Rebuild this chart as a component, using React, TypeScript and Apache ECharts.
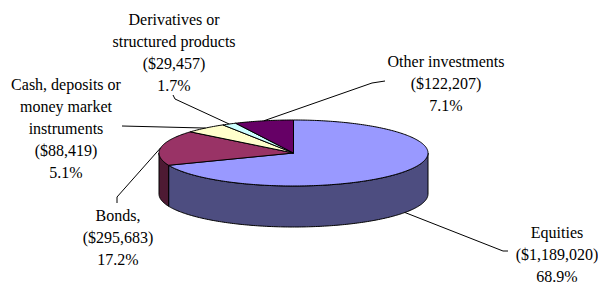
import React, { useEffect, useRef } from "react";
import * as echarts from "echarts";

const categories = [
  "Equities",
  "Bonds,",
  "Cash, deposits or\nmoney market\ninstruments",
  "Derivatives or\nstructured products",
  "Other investments",
];
const values = [1189020, 295683, 88419, 29457, 122207];
const percents = [68.9, 17.2, 5.1, 1.7, 7.1];

const topColors = ["#9999FF", "#993366", "#FFFFCC", "#CCFFFF", "#660066"];
const sideColors = ["#4D4D80", "#4D1A33", "#80806A", "#6A8080", "#330033"];

// label placement (centre of text block) and leader-line elbow points (label side first)
const labelLayout = [
  { x: 557, y: 254, elbow: [[508, 251], [503, 251]] },
  { x: 118, y: 237, elbow: [[117, 203], [117, 197]] },
  { x: 66, y: 128, elbow: [[122, 126]] },
  { x: 174, y: 52, elbow: [[173, 95], [175, 99]] },
  { x: 446, y: 83, elbow: [[385, 81], [372, 83]] },
];

const PIE = { cx: 293.5, cy: 153, rx: 134.5, ry: 33, depth: 41 };
const FAMILY = "Liberation Serif";

function pt(t: number, dy = 0): number[] {
  return [PIE.cx + PIE.rx * Math.cos(t), PIE.cy + PIE.ry * Math.sin(t) + dy];
}

function arc(s: number, e: number, dy = 0): number[][] {
  const pts: number[][] = [];
  const n = Math.max(2, Math.ceil(((e - s) * 180) / Math.PI));
  for (let k = 0; k <= n; k++) pts.push(pt(s + ((e - s) * k) / n, dy));
  return pts;
}

export default function App() {
  const ref = useRef<HTMLDivElement>(null);
  useEffect(() => {
    if (!ref.current) return;
    const chart = echarts.init(ref.current, undefined, { renderer: "svg" });
    const total = values.reduce((a, b) => a + b, 0);
    const labels = values.map((v, i) => ({
      type: "text",
      x: labelLayout[i].x,
      y: labelLayout[i].y,
      silent: true,
      style: {
        text:
          categories[i] +
          "\n($" +
          v.toLocaleString("en-US") +
          ")\n" +
          percents[i].toFixed(1) +
          "%",
        fill: "#000",
        fontFamily: FAMILY,
        fontSize: 16,
        lineHeight: 22,
        align: "center",
        verticalAlign: "middle",
      },
    }));
    chart.setOption({
      animation: false,
      backgroundColor: "#FFFFFF",
      textStyle: { fontFamily: FAMILY },
      graphic: { elements: labels },
      series: [
        {
          type: "custom",
          coordinateSystem: "none",
          silent: true,
          data: values.map((v, i) => ({ value: v, name: categories[i] })),
          renderItem: (params: any, api: any) => {
            const i = params.dataIndex;
            const v = api.value(0) as number;
            let before = 0;
            for (let j = 0; j < i; j++) before += values[j];
            const a = -Math.PI / 2 + (before / total) * Math.PI * 2;
            const b = a + (v / total) * Math.PI * 2;
            const children: any[] = [];
            // side face (front half only)
            const s = Math.max(a, 0);
            const e = Math.min(b, Math.PI);
            if (e > s) {
              const upper = arc(s, e);
              const lower = arc(s, e, PIE.depth).reverse();
              children.push({
                type: "polygon",
                shape: { points: upper.concat(lower) },
                style: { fill: sideColors[i], stroke: "#000", lineWidth: 1 },
              });
            }
            // top face
            children.push({
              type: "polygon",
              shape: { points: [[PIE.cx, PIE.cy]].concat(arc(a, b)) },
              style: { fill: topColors[i], stroke: "#000", lineWidth: 1 },
            });
            // leader line
            const mid = (a + b) / 2;
            const start = pt(mid, Math.sin(mid) > 0 ? PIE.depth : 0);
            const lay = labelLayout[i];
            children.push({
              type: "polyline",
              shape: { points: lay.elbow.concat([start]) },
              style: { stroke: "#000", lineWidth: 1, fill: null },
            });
            return { type: "group", children };
          },
        },
      ],
    });
    return () => chart.dispose();
  }, []);
  return (
    <div
      ref={ref}
      style={{ position: "fixed", left: 0, top: 0, width: 598, height: 284 }}
    />
  );
}
